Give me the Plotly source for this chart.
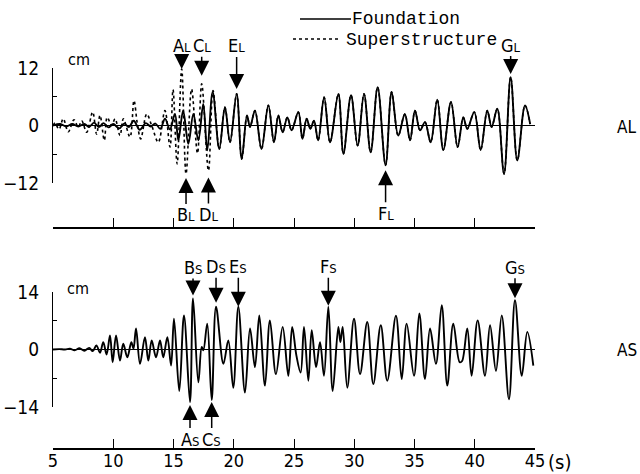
import plotly.graph_objects as go

# ---------------- data ----------------
x_ticks = [5, 10, 15, 20, 25, 30, 35, 40, 45]
x_tick_text = ["5", "10", "15", "20", "25", "30", "35", "40", "45"]

# AL component - foundation (solid), extrema (s, cm)
al_found_t = [5.0, 5.6, 6.1, 6.6, 7.1, 7.6, 8.0, 8.4, 8.8, 9.2, 9.6, 10.0, 10.5, 10.9, 11.3,
              11.7, 12.2, 12.7, 13.1, 13.5, 13.9, 14.3, 14.7, 15.12, 15.4, 15.8, 16.23,
              16.65, 17.06, 17.47, 17.8, 18.25, 18.8, 19.27, 19.69, 20.24, 20.66, 21.1,
              21.35, 21.76, 22.3, 22.87, 23.34, 23.7, 24.06, 24.45, 24.8, 25.36, 25.7,
              26.05, 26.35, 26.66, 27.0, 27.5, 27.99, 28.68, 29.1, 29.73, 30.28, 30.81,
              31.36, 31.94, 32.6, 33.1, 33.65, 34.2, 34.63, 35.04, 35.46, 35.87, 36.34,
              36.89, 37.39, 38.03, 38.58, 39.05, 39.38, 39.96, 40.49, 41.04, 41.4, 41.87,
              42.43, 42.98, 43.53, 44.17, 44.6]
al_found_v = [0.0, 0.3, -0.2, 0.3, -0.2, 0.3, -0.3, 0.6, -0.3, 0.5, -0.4, 0.3, -0.6, 0.4, -0.3,
              1.0, -0.9, 0.5, -0.2, 0.4, -0.7, 1.4, -0.8, 2.4, -3.1, 3.1, -3.8,
              2.4, -3.1, 4.5, -5.2, 7.0, -4.9, 3.8, -3.5, 6.6, -7.0, 2.1,
              -0.3, 3.1, -4.9, 4.2, -3.5, 2.1, -1.4, 1.7, -1.0, 2.8, -2.8,
              1.4, -0.7, 1.0, -3.1, 5.9, -3.5, 6.6, -5.9, 6.3, -4.2, 6.6,
              -5.6, 8.0, -8.3, 7.0, -2.1, 2.4, -3.1, 3.1, -1.0, 0.7, -3.5,
              5.4, -5.1, 4.9, -4.5, 1.7, -0.7, 2.8, -5.1, 3.1, -0.3, 3.5,
              -10.1, 10.1, -7.3, 4.2, 0.3]

# AL component - superstructure (dotted); after ~18.5 s it lies on the foundation trace
al_super_t_early = [5.0, 5.17, 5.5, 5.85, 6.27, 6.74, 7.1, 7.38, 7.8, 8.29, 8.62, 8.9, 9.26,
                    9.5, 9.87, 10.15, 10.56, 10.84, 11.39, 11.72, 12.0, 12.28, 12.78, 13.19,
                    13.74, 14.29, 14.71, 14.96, 15.3, 15.68, 16.04, 16.5, 16.99, 17.34,
                    17.9, 18.28]
al_super_v_early = [0.0, 0.5, -0.8, 1.4, -1.3, 1.2, -0.35, 1.0, -1.4, 2.8, -1.8, 2.1, -3.1,
                    1.7, 0.0, 1.4, -2.1, 1.4, -2.4, 5.2, 0.35, -2.8, 2.4, 0.0,
                    -3.5, 3.1, -4.5, 7.5, -8.0, 11.8, -10.1, 7.6, -5.8, 8.7,
                    -9.4, 7.3]

# AS component - foundation (solid)
as_found_t = [5.0, 5.5, 6.0, 6.4, 6.8, 7.2, 7.6, 8.0, 8.3, 8.6, 8.9, 9.17, 9.45, 9.73, 9.95,
              10.23, 10.56, 10.83, 11.17, 11.5, 11.68, 11.89, 12.22, 12.63, 12.91, 13.19,
              13.55, 13.88, 14.15, 14.49, 14.8, 15.04, 15.48, 15.87, 16.37, 16.62, 17.06,
              17.34, 17.48, 17.8, 18.17, 18.53, 19.14, 19.55, 19.96, 20.38, 20.93, 21.35,
              21.76, 22.12, 22.59, 23.0, 23.5, 24.06, 24.53, 24.85, 25.2, 25.55, 25.83,
              26.19, 26.47, 26.83, 27.16, 27.49, 27.85, 28.21, 28.68, 28.85, 29.04, 29.42,
              29.98, 30.48, 31.08, 31.58, 32.2, 32.74, 33.46, 33.94, 34.35, 34.96, 35.4,
              35.87, 36.29, 36.78, 37.26, 37.72, 38.22, 38.75, 38.95, 39.38, 39.74, 40.24,
              40.85, 41.27, 41.76, 42.24, 42.84, 43.34, 43.9, 44.36, 44.86]
as_found_v = [0.0, 0.1, 0.0, 0.2, -0.2, 0.3, -0.3, 0.4, -0.4, 1.0, -0.8, 1.8, -1.2, 3.4, -3.1,
              3.4, -2.7, 1.4, -1.9, 1.8, 0.2, 5.1, -3.5, 3.0, -2.7, 2.2,
              -1.9, 2.2, -1.9, 3.0, -3.9, 7.5, -10.1, 8.3, -12.8, 12.4, -8.0,
              0.6, -0.2, 6.3, -12.3, 10.4, -3.5, 2.2, -9.3, 10.4, -10.5, 5.1,
              -4.3, 8.3, -8.8, 7.1, -6.0, 5.5, -6.4, 5.5, -1.5, -5.6, 5.5,
              -7.6, 4.7, -4.3, 1.8, -6.4, 10.4, -10.1, 5.5, 1.8, 5.5, -9.3,
              7.5, -6.0, 6.7, -8.4, 5.9, -7.6, 8.2, -7.2, 6.3, -6.4, 8.8,
              -7.2, 5.1, -3.5, 10.8, -8.8, 6.3, -3.1, -2.8, 5.1, -6.4, 7.1,
              -6.4, 5.9, -5.2, 8.3, -12.1, 12.0, -6.4, 4.3, -3.9]

# marked peaks: label, subscript, time (s), value (cm)
al_marks = [("A", "L", 15.68, 11.8), ("B", "L", 16.04, -10.1), ("C", "L", 17.34, 8.7),
            ("D", "L", 17.9, -9.4), ("E", "L", 20.24, 6.6), ("F", "L", 32.6, -8.3),
            ("G", "L", 42.98, 10.1)]
as_marks = [("A", "S", 16.37, -12.8), ("B", "S", 16.62, 12.4), ("C", "S", 18.17, -12.3),
            ("D", "S", 18.53, 10.4), ("E", "S", 20.38, 10.4), ("F", "S", 27.85, 10.4),
            ("G", "S", 43.34, 12.0)]

# ---------------- styling ----------------
W, H = 640, 474
NARROW = "Liberation Sans Narrow, Arial Narrow, DejaVu Sans Condensed, Liberation Sans, sans-serif"
MONO = "Liberation Mono, DejaVu Sans Mono, monospace"

def px_x(p):
    return p / W

def px_y(p):
    return 1 - p / H

# superstructure after 18.5 s coincides with foundation
k = next(i for i, t in enumerate(al_found_t) if t > 18.5)
al_super_t = al_super_t_early + al_found_t[k:]
al_super_v = al_super_v_early + al_found_v[k:]

fig = go.Figure()
fig.add_trace(go.Scatter(x=al_super_t, y=al_super_v, mode="lines", xaxis="x", yaxis="y",
                         line=dict(color="black", width=1.6, dash="dot", shape="spline", smoothing=1.0),
                         showlegend=False, hoverinfo="skip"))
fig.add_trace(go.Scatter(x=al_found_t, y=al_found_v, mode="lines", xaxis="x", yaxis="y",
                         line=dict(color="black", width=1.9, shape="spline", smoothing=1.0),
                         showlegend=False, hoverinfo="skip"))
fig.add_trace(go.Scatter(x=as_found_t, y=as_found_v, mode="lines", xaxis="x2", yaxis="y2",
                         line=dict(color="black", width=1.9, shape="spline", smoothing=1.0),
                         showlegend=False, hoverinfo="skip"))

xdom = [px_x(53), px_x(535)]
common_x = dict(domain=xdom, range=[5, 45], showline=True, linecolor="black", linewidth=1.5,
                ticks="inside", ticklen=9, tickwidth=1.3, tickcolor="black",
                tickmode="array", tickvals=x_ticks, ticktext=x_tick_text,
                showgrid=False, zeroline=False, fixedrange=True, automargin=False,
                tickfont=dict(family=NARROW, size=18, color="black"))
common_y = dict(showline=True, linecolor="black", linewidth=1.3, ticks="inside", ticklen=8,
                tickwidth=1.3, tickcolor="black", showgrid=False, zeroline=True,
                zerolinecolor="black", zerolinewidth=1, fixedrange=True, automargin=False,
                tickfont=dict(family=NARROW, size=19, color="black"), ticklabelstandoff=9)

fig.update_layout(
    width=W, height=H, margin=dict(l=0, r=0, t=0, b=0),
    paper_bgcolor="white", plot_bgcolor="white",
    xaxis=dict(common_x, anchor="free", position=px_y(228), showticklabels=False),
    yaxis=dict(common_y, domain=[px_y(183), px_y(68)], range=[-12, 12], anchor="x",
               tickmode="array", tickvals=[-12, 0, 12], ticktext=["−12", "0", "12"],
               minor=dict(tickmode="array", tickvals=[-6, 6], ticks="inside", ticklen=4, tickcolor="black")),
    xaxis2=dict(common_x, anchor="free", position=px_y(449), showticklabels=True,
                ticklabelstandoff=-4),
    yaxis2=dict(common_y, domain=[px_y(407), px_y(292)], range=[-14, 14], anchor="x2",
                tickmode="array", tickvals=[-14, 0, 14], ticktext=["−14", "0", "14"],
                minor=dict(tickmode="array", tickvals=[-7, 7], ticks="inside", ticklen=4, tickcolor="black")),
)

annotations = []
# peak markers: (text centre offset in px, standoff) per label
al_style = {"A": (-23, 0), "B": (41, 4), "C": (-38, 8), "D": (44, 7), "E": (-48, 5),
            "F": (48, 5), "G": (-32, 3)}
as_style = {"A": (37, 3), "B": (-31, 3), "C": (39, 2), "D": (-40, 4), "E": (-40, 0),
            "F": (-40, 1), "G": (-33, 2)}
for marks, style, xr, yr in [(al_marks, al_style, "x", "y"), (as_marks, as_style, "x2", "y2")]:
    for letter, sub, t, v in marks:
        ay, so = style[letter]
        annotations.append(dict(
            x=t, y=v, xref=xr, yref=yr, ax=0, ay=ay, showarrow=True,
            text=f"{letter}<span style='font-size:13px'>{sub}</span>",
            font=dict(family=NARROW, size=18, color="black"),
            arrowhead=2, arrowsize=2.0, arrowwidth=1.5, arrowcolor="black",
            standoff=so, borderpad=0))

def label(text, x, y, size, family=NARROW, xanchor="left"):
    annotations.append(dict(text=text, x=px_x(x), y=px_y(y), xref="paper", yref="paper",
                            xanchor=xanchor, yanchor="middle", showarrow=False,
                            font=dict(family=family, size=size, color="black")))

label("cm", 66, 59, 16)
label("cm", 65, 288, 16)
label("AL", 615, 127, 17)
label("AS", 615, 350, 17)
label("(s)", 546, 462, 20)
label("Foundation", 350, 19, 18, family=MONO)
label("Superstructure", 344, 40, 18, family=MONO)

fig.update_layout(annotations=annotations)

shapes = [
    dict(type="line", xref="paper", yref="paper", x0=px_x(300), x1=px_x(351),
         y0=px_y(19), y1=px_y(19), line=dict(color="black", width=1.3)),
    dict(type="line", xref="paper", yref="paper", x0=px_x(293), x1=px_x(341),
         y0=px_y(39), y1=px_y(39), line=dict(color="black", width=1.3, dash="dot")),
]
fig.update_layout(shapes=shapes)

fig.write_html("out.html", config={"displayModeBar": False})
